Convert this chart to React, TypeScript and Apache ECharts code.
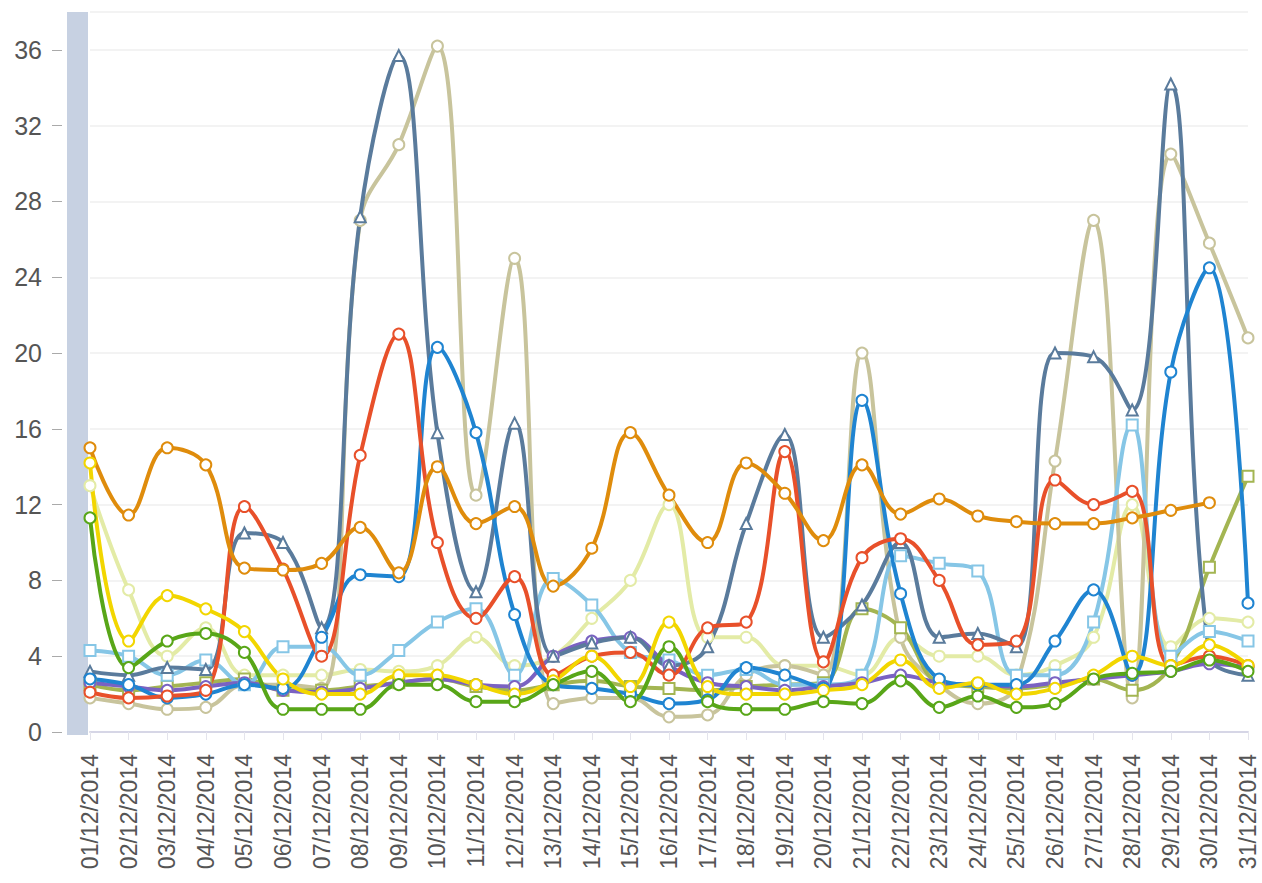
import React, { useEffect, useRef } from "react";
import * as echarts from "echarts";

const categories = [
  "01/12/2014", "02/12/2014", "03/12/2014", "04/12/2014", "05/12/2014", "06/12/2014", "07/12/2014",
  "08/12/2014", "09/12/2014", "10/12/2014", "11/12/2014", "12/12/2014", "13/12/2014", "14/12/2014",
  "15/12/2014", "16/12/2014", "17/12/2014", "18/12/2014", "19/12/2014", "20/12/2014", "21/12/2014",
  "22/12/2014", "23/12/2014", "24/12/2014", "25/12/2014", "26/12/2014", "27/12/2014", "28/12/2014",
  "29/12/2014", "30/12/2014", "31/12/2014",
];

const paleValues = [13, 7.5, 4, 5.5, 3, 3, 3, 3.3, 3.2, 3.5, 5, 3.5, 4, 6, 8, 12, 5, 5, 3.5, 3.5, 3, 5, 4, 4, 3, 3.5, 5, 12, 4.5, 6, 5.8];
const khakiValues = [1.8, 1.5, 1.2, 1.3, 2.5, 2.5, 2.3, 27, 31, 36.2, 12.5, 25, 1.5, 1.8, 1.8, 0.8, 0.9, 3, 3.5, 3, 20, 5, 2.5, 1.5, 2.5, 14.3, 27, 1.8, 30.5, 25.8, 20.8];
const oliveValues = [2.5, 2.2, 2.4, 2.6, 2.8, 2.2, 2.2, 2.4, 2.6, 2.8, 2.4, 2.2, 2.5, 2.7, 2.4, 2.3, 2.2, 2.4, 2.5, 2.6, 6.5, 5.5, 2.6, 2.4, 2.3, 2.5, 2.8, 2.2, 3.5, 8.7, 13.5];
const lightBlueValues = [4.3, 4, 3, 3.8, 2.5, 4.5, 4.5, 3, 4.3, 5.8, 6.5, 3, 8.1, 6.7, 4.2, 3.8, 3, 3.3, 2.5, 2.5, 3, 9.3, 8.9, 8.5, 3, 3, 5.8, 16.2, 4, 5.3, 4.8];
const purpleValues = [2.6, 2.4, 2.2, 2.4, 2.6, 2.2, 2.1, 2.3, 2.6, 2.8, 2.5, 2.4, 4, 4.8, 5, 3.5, 2.6, 2.4, 2.2, 2.4, 2.6, 3, 2.6, 2.5, 2.4, 2.6, 2.8, 3, 3.2, 3.6, 3.4];
const slateValues = [3.2, 3, 3.4, 3.3, 10.5, 10, 5.5, 27.2, 35.7, 15.8, 7.4, 16.3, 4, 4.7, 5, 3.5, 4.5, 11, 15.7, 5, 6.7, 10, 5, 5.2, 4.5, 20, 19.8, 17, 34.2, 4, 3];
const blueValues = [2.8, 2.5, 1.8, 2, 2.5, 2.3, 5, 8.3, 8.2, 20.3, 15.8, 6.2, 2.5, 2.3, 2, 1.5, 1.7, 3.4, 3, 2.3, 17.5, 7.3, 2.8, 2.5, 2.5, 4.8, 7.5, 3, 19, 24.5, 6.8];
const redValues = [2.1, 1.8, 1.9, 2.2, 11.9, 8.6, 4, 14.6, 21, 10, 6, 8.2, 3, 4, 4.2, 3, 5.5, 5.8, 14.8, 3.7, 9.2, 10.2, 8, 4.6, 4.8, 13.3, 12, 12.7, 3.5, 4, 3.5];
const orangeValues = [15, 11.45, 15, 14.1, 8.65, 8.55, 8.9, 10.8, 8.4, 14, 11, 11.9, 7.7, 9.7, 15.8, 12.5, 10, 14.2, 12.6, 10.1, 14.1, 11.5, 12.3, 11.4, 11.1, 11, 11, 11.3, 11.7, 12.1, null];
const yellowValues = [14.2, 4.8, 7.2, 6.5, 5.3, 2.8, 2, 2, 3, 3, 2.5, 2, 2.7, 4, 2.4, 5.8, 2.4, 2, 2, 2.2, 2.5, 3.8, 2.3, 2.6, 2, 2.3, 3, 4, 3.5, 4.6, 3.5];
const greenValues = [11.3, 3.4, 4.8, 5.2, 4.2, 1.2, 1.2, 1.2, 2.5, 2.5, 1.6, 1.6, 2.5, 3.2, 1.6, 4.5, 1.6, 1.2, 1.2, 1.6, 1.5, 2.7, 1.3, 1.9, 1.3, 1.5, 2.8, 3.1, 3.2, 3.8, 3.2];

const yTicks = { min: 0, max: 38, interval: 4 };

const seriesDefs = [
  { name: "S1", data: paleValues, color: "#e3eba6", symbol: "emptyCircle" },
  { name: "S2", data: khakiValues, color: "#c8c49c", symbol: "emptyCircle" },
  { name: "S3", data: oliveValues, color: "#a3b552", symbol: "emptyRect" },
  { name: "S4", data: lightBlueValues, color: "#86c6e6", symbol: "emptyRect" },
  { name: "S5", data: purpleValues, color: "#7a62c2", symbol: "emptyCircle" },
  { name: "S6", data: slateValues, color: "#5a7b9c", symbol: "emptyTriangle" },
  { name: "S7", data: blueValues, color: "#1f84d1", symbol: "emptyCircle" },
  { name: "S8", data: redValues, color: "#e8502a", symbol: "emptyCircle" },
  { name: "S9", data: orangeValues, color: "#df8c0c", symbol: "emptyCircle" },
  { name: "S10", data: yellowValues, color: "#f2d600", symbol: "emptyCircle" },
  { name: "S11", data: greenValues, color: "#58a618", symbol: "emptyCircle" },
];

export default function App() {
  const ref = useRef<HTMLDivElement>(null);
  useEffect(() => {
    if (!ref.current) return;
    const chart = echarts.init(ref.current, null, { renderer: "svg" });
    chart.setOption({
      animation: false,
      backgroundColor: "#ffffff",
      graphic: [
        {
          type: "rect",
          left: 67,
          top: 12,
          shape: { width: 21, height: 723 },
          style: { fill: "#c7d1e2" },
          z: 0,
        },
      ],
      grid: { left: 90, right: 14, top: 12, bottom: 151 },
      xAxis: {
        type: "category",
        data: categories,
        boundaryGap: false,
        axisLine: { lineStyle: { color: "#d6d6e6", width: 2 } },
        axisTick: { show: true, length: 8, lineStyle: { color: "#e4e4ec" } },
        axisLabel: {
          rotate: 90,
          margin: 22,
          fontSize: 23,
          color: "#555",
          fontFamily: "Liberation Sans, Arial, sans-serif",
        },
        splitLine: { show: false },
      },
      yAxis: {
        type: "value",
        min: yTicks.min,
        max: yTicks.max,
        interval: yTicks.interval,
        offset: 28,
        axisLine: { show: false },
        axisTick: { show: true, length: 10, lineStyle: { color: "#aaa" } },
        axisLabel: {
          margin: 20,
          fontSize: 25,
          color: "#555",
          showMaxLabel: false,
          fontFamily: "Liberation Sans, Arial, sans-serif",
        },
        splitLine: { show: true, lineStyle: { color: "#f3f3f3", width: 2 } },
      },
      series: seriesDefs.map((s) => ({
        name: s.name,
        type: "line",
        data: s.data,
        smooth: 0.4,
        symbol: s.symbol,
        symbolSize: 11,
        showSymbol: true,
        connectNulls: false,
        lineStyle: { width: 4, color: s.color },
        itemStyle: { color: s.color, borderColor: s.color, borderWidth: 3 },
      })),
    });
    return () => chart.dispose();
  }, []);
  return (
    <div
      ref={ref}
      style={{ position: "fixed", left: 0, top: 0, width: 1262, height: 883 }}
    />
  );
}
